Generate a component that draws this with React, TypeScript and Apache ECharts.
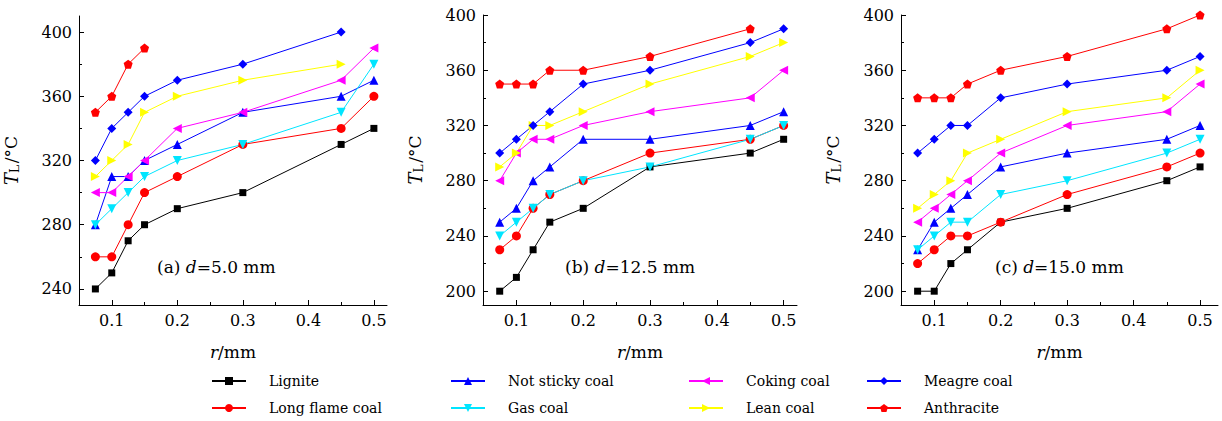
import React, { useEffect, useRef } from "react";
import * as echarts from "echarts";

const R_VALUES = [0.075, 0.1, 0.125, 0.15, 0.2, 0.3, 0.45, 0.5];
const NAMES = [
  "Lignite",
  "Long flame coal",
  "Not sticky coal",
  "Gas coal",
  "Coking coal",
  "Lean coal",
  "Meagre coal",
  "Anthracite",
];

const PANEL_A: (number | null)[][] = [
  [240, 250, 270, 280, 290, 300, 330, 340],
  [260, 260, 280, 300, 310, 330, 340, 360],
  [280, 310, 310, 320, 330, 350, 360, 370],
  [280, 290, 300, 310, 320, 330, 350, 380],
  [300, 300, 310, 320, 340, 350, 370, 390],
  [310, 320, 330, 350, 360, 370, 380, null],
  [320, 340, 350, 360, 370, 380, 400, null],
  [350, 360, 380, 390, null, null, null, null],
];
const PANEL_B: (number | null)[][] = [
  [200, 210, 230, 250, 260, 290, 300, 310],
  [230, 240, 260, 270, 280, 300, 310, 320],
  [250, 260, 280, 290, 310, 310, 320, 330],
  [240, 250, 260, 270, 280, 290, 310, 320],
  [280, 300, 310, 310, 320, 330, 340, 360],
  [290, 300, 320, 320, 330, 350, 370, 380],
  [300, 310, 320, 330, 350, 360, 380, 390],
  [350, 350, 350, 360, 360, 370, 390, null],
];
const PANEL_C: (number | null)[][] = [
  [200, 200, 220, 230, 250, 260, 280, 290],
  [220, 230, 240, 240, 250, 270, 290, 300],
  [230, 250, 260, 270, 290, 300, 310, 320],
  [230, 240, 250, 250, 270, 280, 300, 310],
  [250, 260, 270, 280, 300, 320, 330, 350],
  [260, 270, 280, 300, 310, 330, 340, 360],
  [300, 310, 320, 320, 340, 350, 360, 370],
  [340, 340, 340, 350, 360, 370, 390, 400],
];

const X_LABELS = [0.1, 0.2, 0.3, 0.4, 0.5];
const X_MINOR = [0.15, 0.25, 0.35, 0.45];
const Y_LABELS_A = [240, 280, 320, 360, 400];
const Y_MINOR_A = [260, 300, 340, 380];
const Y_LABELS_BC = [200, 240, 280, 320, 360, 400];
const Y_MINOR_BC = [220, 260, 300, 340, 380];
const PANEL_TEXT = [
  ["(a) ", "5.0 mm"],
  ["(b) ", "12.5 mm"],
  ["(c) ", "15.0 mm"],
];

const FONT = "DejaVu Serif";

const COLORS = ["#000000", "#ff0000", "#0000ff", "#00e5ff", "#ff00ff", "#ffff00", "#0000ff", "#ff0000"];
const SYMBOLS = [
  "rect",
  "circle",
  "triangle",
  "path://M-1,-1 L1,-1 L0,1 Z",
  "path://M1,-1 L1,1 L-1,0 Z",
  "path://M-1,-1 L-1,1 L1,0 Z",
  "diamond",
  "path://M0,-1 L0.951,-0.309 L0.588,0.809 L-0.588,0.809 L-0.951,-0.309 Z",
];

export default function App() {
  const ref = useRef<HTMLDivElement>(null);

  useEffect(() => {
    if (!ref.current) return;
    const chart = echarts.init(ref.current, null, { renderer: "svg" });

    const grids = [
      { left: 79, top: 16, width: 308, height: 289, xMax: 0.52, yMin: 230, yMax: 410, yl: Y_LABELS_A, ym: Y_MINOR_A },
      { left: 483, top: 15, width: 314, height: 290, xMax: 0.52, yMin: 190, yMax: 400, yl: Y_LABELS_BC, ym: Y_MINOR_BC },
      { left: 901, top: 15, width: 317, height: 290, xMax: 0.527, yMin: 190, yMax: 400, yl: Y_LABELS_BC, ym: Y_MINOR_BC },
    ];
    const panels = [PANEL_A, PANEL_B, PANEL_C];

    const axisLine = { show: true, lineStyle: { color: "#000", width: 1 } };
    const xAxis: any[] = [];
    const yAxis: any[] = [];
    grids.forEach((g, i) => {
      xAxis.push({
        type: "value",
        gridIndex: i,
        position: "bottom",
        min: 0.05,
        max: g.xMax,
        axisLine,
        axisTick: { show: true, inside: true, length: 5, customValues: X_LABELS, lineStyle: { color: "#000" } },
        axisLabel: {
          customValues: X_LABELS,
          formatter: (v: number) => v.toFixed(1),
          color: "#000",
          fontFamily: FONT,
          fontSize: 16,
          margin: 7,
        },
        splitLine: { show: false },
        name: "{i|r}{n|/mm}",
        nameLocation: "middle",
        nameGap: 38,
        nameTextStyle: {
          fontFamily: FONT,
          rich: {
            i: { fontFamily: FONT, fontSize: 17, fontStyle: "italic", color: "#000" },
            n: { fontFamily: FONT, fontSize: 17, color: "#000" },
          },
        },
      });
      xAxis.push({
        type: "value",
        gridIndex: i,
        position: "bottom",
        min: 0.05,
        max: g.xMax,
        axisLine: { show: false },
        axisTick: { show: true, inside: true, length: 3, customValues: X_MINOR, lineStyle: { color: "#000" } },
        axisLabel: { show: false, customValues: X_MINOR },
        splitLine: { show: false },
      });
      yAxis.push({
        type: "value",
        gridIndex: i,
        position: "left",
        min: g.yMin,
        max: g.yMax,
        axisLine,
        axisTick: { show: true, inside: true, length: 5, customValues: g.yl, lineStyle: { color: "#000" } },
        axisLabel: { customValues: g.yl, color: "#000", fontFamily: FONT, fontSize: 16, margin: 7 },
        splitLine: { show: false },
        name: "{i|T}{s|L}{n|/°C}",
        nameLocation: "middle",
        nameRotate: 90,
        nameGap: 58,
        nameTextStyle: {
          fontFamily: FONT,
          rich: {
            i: { fontFamily: FONT, fontSize: 18, fontStyle: "italic", color: "#000" },
            s: { fontFamily: FONT, fontSize: 12, color: "#000", padding: [8, 2, 0, 0] },
            n: { fontFamily: FONT, fontSize: 17, color: "#000" },
          },
        },
      });
      yAxis.push({
        type: "value",
        gridIndex: i,
        position: "left",
        min: g.yMin,
        max: g.yMax,
        axisLine: { show: false },
        axisTick: { show: true, inside: true, length: 3, customValues: g.ym, lineStyle: { color: "#000" } },
        axisLabel: { show: false, customValues: g.ym },
        splitLine: { show: false },
      });
    });

    const series: any[] = [];
    panels.forEach((panel, p) => {
      panel.forEach((vals, s) => {
        const data = R_VALUES.map((r, k) => [r, vals[k]]).filter((d) => d[1] !== null);
        series.push({
          type: "line",
          name: NAMES[s],
          xAxisIndex: p * 2,
          yAxisIndex: p * 2,
          data,
          symbol: SYMBOLS[s],
          symbolSize: s === 0 ? 7 : 9,
          showAllSymbol: true,
          itemStyle: { color: COLORS[s] },
          lineStyle: { color: COLORS[s], width: 1 },
          emphasis: { disabled: true },
        });
      });
    });

    const colLefts = [211, 450, 688, 866];
    const rowTops = [374, 401];
    const legendOrder = [0, 2, 4, 6, 1, 3, 5, 7];
    const legend = legendOrder.map((idx, k) => ({
      orient: "horizontal",
      left: colLefts[k % 4],
      top: rowTops[Math.floor(k / 4)],
      itemWidth: 34,
      itemHeight: 10,
      padding: 0,
      data: [NAMES[idx]],
      selectedMode: false,
      textStyle: { fontFamily: FONT, fontSize: 14, color: "#000", padding: [0, 0, 0, 18] },
    }));

    const textLefts = [157, 565, 995];
    const graphic = PANEL_TEXT.map((t, i) => ({
      type: "text",
      left: textLefts[i],
      top: 258,
      style: {
        text: `{n|${t[0]}}{i|d}{n|=${t[1]}}`,
        fontFamily: FONT,
        fontSize: 17,
        rich: {
          n: { fontFamily: FONT, fontSize: 17, fill: "#000" },
          i: { fontFamily: FONT, fontSize: 17, fontStyle: "italic", fill: "#000" },
        },
      },
    }));

    chart.setOption({
      animation: false,
      backgroundColor: "#ffffff",
      textStyle: { fontFamily: FONT },
      grid: grids.map((g) => ({ left: g.left, top: g.top, width: g.width, height: g.height })),
      xAxis,
      yAxis,
      series,
      legend,
      graphic,
    });

    return () => chart.dispose();
  }, []);

  return (
    <div
      ref={ref}
      style={{ position: "absolute", left: 0, top: 0, width: 1222, height: 421, background: "#fff" }}
    />
  );
}
